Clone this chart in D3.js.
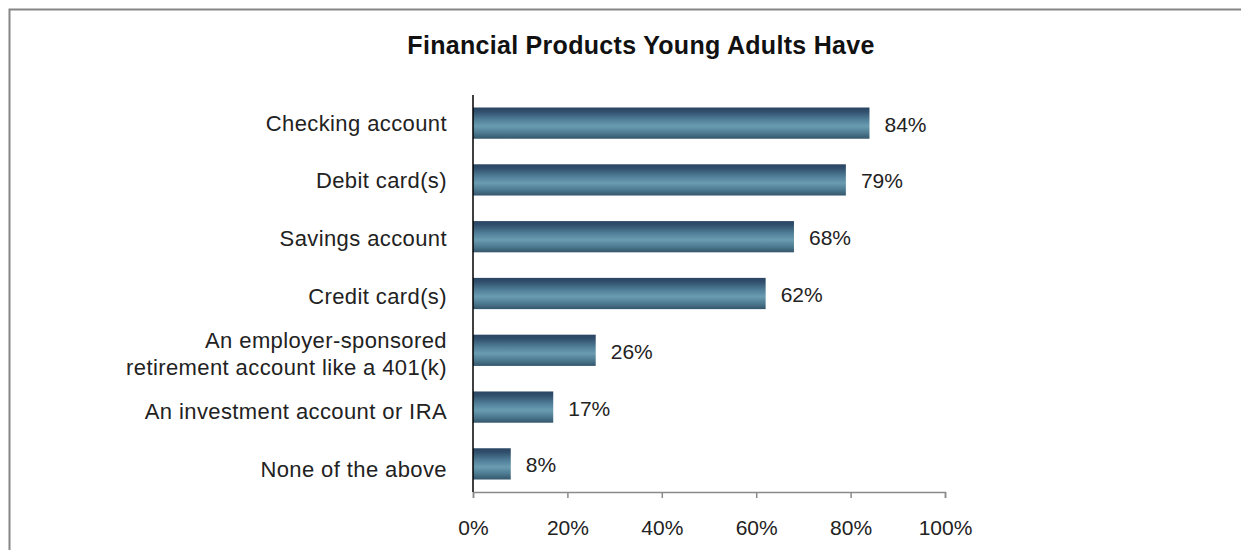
<!DOCTYPE html>
<html>
<head>
<meta charset="utf-8">
<script src="https://cdn.jsdelivr.net/npm/d3@7"></script>
<style>
  html, body { margin: 0; padding: 0; background: #fff; }
  svg { display: block; font-family: "Liberation Sans", Arial, sans-serif; }
</style>
</head>
<body>
<svg id="chart" width="1241" height="550"></svg>
<script>
// Share of young adults holding each financial product
const categories = [
  "Checking account",
  "Debit card(s)",
  "Savings account",
  "Credit card(s)",
  "An employer-sponsored\nretirement account like a 401(k)",
  "An investment account or IRA",
  "None of the above"
];
const shares = [0.84, 0.79, 0.68, 0.62, 0.26, 0.17, 0.08];
const tickValues = [0, 0.2, 0.4, 0.6, 0.8, 1.0];
const titleText = "Financial Products Young Adults Have";

const svg = d3.select("#chart");

// outer frame (runs off the right and bottom edges)
svg.append("rect")
  .attr("x", 9.5).attr("y", 9.5)
  .attr("width", 1300).attr("height", 600)
  .attr("fill", "#fff")
  .attr("stroke", "#858585").attr("stroke-width", 2);

// cylinder-like shading for the bars
const defs = svg.append("defs");
const grad = defs.append("linearGradient")
  .attr("id", "barShade").attr("x1", 0).attr("y1", 0).attr("x2", 0).attr("y2", 1);
[
  [0, "#2a4563"], [0.12, "#2f4e6b"], [0.4, "#52809a"],
  [0.6, "#6a9cb1"], [0.8, "#4f7d93"], [1, "#34566b"]
].forEach(([o, c]) => grad.append("stop").attr("offset", o).attr("stop-color", c));

const x = d3.scaleLinear().domain([0, 1]).range([473, 945]);
const y = d3.scaleBand().domain(categories).range([95, 492])
  .paddingInner(0.45).paddingOuter(0.22);
// category labels sit on a slightly looser grid than the bars
const yLabel = d3.scaleBand().domain(categories).range([95, 498.5])
  .paddingInner(0.45).paddingOuter(0.22);

// title
svg.append("text")
  .attr("x", 641).attr("y", 54)
  .attr("text-anchor", "middle")
  .attr("font-size", 25).attr("font-weight", "bold")
  .attr("letter-spacing", 0.3)
  .attr("fill", "#111")
  .text(titleText);

// bars
svg.append("g").selectAll("rect")
  .data(categories)
  .join("rect")
  .attr("x", x(0))
  .attr("y", d => y(d))
  .attr("width", (d, i) => x(shares[i]) - x(0))
  .attr("height", y.bandwidth())
  .attr("fill", "url(#barShade)");

// value labels
svg.append("g").selectAll("text")
  .data(categories)
  .join("text")
  .attr("x", (d, i) => x(shares[i]) + 15)
  .attr("y", d => y(d) + y.bandwidth() / 2 + 1)
  .attr("dy", "0.36em")
  .attr("font-size", 21)
  .attr("fill", "#222")
  .text((d, i) => d3.format(".0%")(shares[i]));

// x axis
const xAxis = svg.append("g")
  .attr("transform", "translate(0,492)")
  .call(d3.axisBottom(x).tickValues(tickValues).tickFormat(d3.format(".0%"))
    .tickSize(6).tickSizeOuter(6).tickPadding(22));
xAxis.select(".domain").attr("stroke", "#8a8a8a").attr("stroke-width", 1.5);
xAxis.selectAll(".tick line").attr("stroke", "#8a8a8a").attr("stroke-width", 1.5);
xAxis.selectAll(".tick text")
  .attr("font-size", 21).attr("fill", "#222")
  .attr("font-family", "Liberation Sans, Arial, sans-serif");

// y axis line and category labels
const yAxis = svg.append("g")
  .attr("transform", `translate(${x(0)},0)`)
  .call(d3.axisLeft(yLabel).tickSize(0).tickPadding(26));
yAxis.select(".domain")
  .attr("d", `M0,95V492`)
  .attr("stroke", "#000").attr("stroke-width", 1.5);
yAxis.selectAll(".tick text")
  .attr("font-size", 22).attr("fill", "#222")
  .attr("letter-spacing", 0.4)
  .attr("font-family", "Liberation Sans, Arial, sans-serif")
  .each(function(d) {
    const lines = d.split("\n");
    if (lines.length > 1) {
      const t = d3.select(this).text(null).attr("dy", null);
      lines.forEach((ln, k) => {
        t.append("tspan")
          .attr("x", -26)
          .attr("dy", k === 0 ? "-0.3em" : "1.25em")
          .text(ln);
      });
    }
  });
</script>
</body>
</html>
